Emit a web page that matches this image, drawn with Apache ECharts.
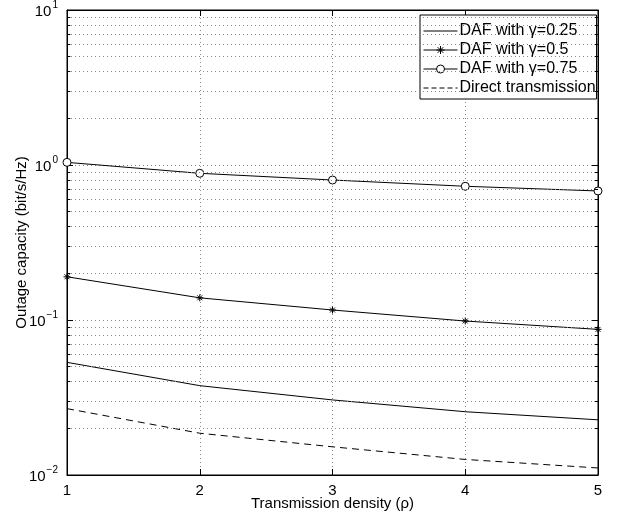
<!DOCTYPE html>
<html>
<head>
<meta charset="utf-8">
<script src="https://cdn.jsdelivr.net/npm/echarts@6/dist/echarts.min.js"></script>
<style>
  html, body { margin: 0; padding: 0; background: #fff; }
  #graph { width: 618px; height: 520px; }
</style>
</head>
<body>
<div id="graph"></div>
<script>
// values
var densities = [1, 2, 3, 4, 5];
var daf025 = [0.0533, 0.0377, 0.0305, 0.0256, 0.0227];
var daf05 = [0.190, 0.139, 0.116, 0.0985, 0.087];
var daf075 = [1.04, 0.884, 0.80, 0.729, 0.68];
var direct = [0.0268, 0.0186, 0.0152, 0.0126, 0.0111];
var seriesNames = ['DAF with \u03b3=0.25', 'DAF with \u03b3=0.5', 'DAF with \u03b3=0.75', 'Direct transmission'];
var minorGrid = [];
[0.01, 0.1, 1].forEach(function (d) {
  for (var k = 2; k <= 9; k++) minorGrid.push(+(d * k).toPrecision(3));
});

var FONT = 'Liberation Sans';
var starPath = 'path://M5,0L5,10M0,5L10,5M1.5,1.5L8.5,8.5M1.5,8.5L8.5,1.5';
var tickLen = 0.025; // minor tick length along x, in data units

function pairs(ys) {
  return densities.map(function (x, i) { return [x, ys[i]]; });
}

// dotted minor grid + short minor ticks on left/right axes
var minorLines = minorGrid.map(function (v) { return { yAxis: v }; });
var minorTicks = [];
minorGrid.forEach(function (v) {
  minorTicks.push([{ coord: [1, v] }, { coord: [1 + tickLen, v] }]);
  minorTicks.push([{ coord: [5 - tickLen, v] }, { coord: [5, v] }]);
});

var myChart = echarts.init(document.getElementById('graph'));

var gridLine = { show: true, lineStyle: { color: '#888', type: [1, 3], width: 1 } };
var hideIcon = { color: 'transparent', borderColor: 'transparent', borderWidth: 0 };
var solidLine = { color: '#000', width: 1, type: 'solid' };

var option = {
  animation: false,
  backgroundColor: '#fff',
  textStyle: { fontFamily: FONT },
  grid: {
    left: 67, right: 20, top: 10, bottom: 45,
    outerBoundsMode: 'none',
    show: true, borderColor: '#000', borderWidth: 1
  },
  legend: {
    data: [
      { name: seriesNames[0], itemStyle: hideIcon, lineStyle: solidLine },
      { name: seriesNames[1], lineStyle: solidLine, itemStyle: { color: '#000', borderColor: '#000', borderWidth: 1 } },
      { name: seriesNames[2], lineStyle: solidLine, itemStyle: { color: '#fff', borderColor: '#000', borderWidth: 1 } },
      { name: seriesNames[3], itemStyle: hideIcon, lineStyle: { color: '#000', width: 1, type: [5, 3] } }
    ],
    orient: 'vertical',
    left: 420,
    top: 15,
    backgroundColor: '#fff',
    borderColor: '#000',
    borderWidth: 1,
    padding: [8, 1, 3, 3],
    itemWidth: 34,
    itemHeight: 10,
    itemGap: 3,
    textStyle: { fontFamily: FONT, fontSize: 16, color: '#000', padding: [0, 0, 0, -3] }
  },
  xAxis: [{
    type: 'value',
    min: 1,
    max: 5,
    interval: 1,
    name: 'Transmission density (\u03c1)',
    nameLocation: 'middle',
    nameGap: 21,
    nameMoveOverlap: false,
    nameTextStyle: { fontFamily: FONT, fontSize: 15, color: '#000', verticalAlign: 'top' },
    axisLine: { lineStyle: { color: '#000' } },
    axisTick: { inside: true, length: 6, lineStyle: { color: '#000' } },
    axisLabel: { fontFamily: FONT, fontSize: 15, color: '#000', margin: 8 },
    splitLine: gridLine
  }, {
    type: 'value',
    position: 'top',
    min: 1,
    max: 5,
    interval: 1,
    axisLine: { lineStyle: { color: '#000' } },
    axisTick: { inside: true, length: 6, lineStyle: { color: '#000' } },
    axisLabel: { show: false },
    splitLine: { show: false }
  }],
  yAxis: [{
    type: 'log',
    logBase: 10,
    min: 0.01,
    max: 10,
    name: 'Outage capacity (bit/s/Hz)',
    nameLocation: 'middle',
    nameGap: 38,
    nameMoveOverlap: false,
    nameTextStyle: { fontFamily: FONT, fontSize: 15, color: '#000' },
    axisLine: { lineStyle: { color: '#000' } },
    axisTick: { inside: true, length: 6, lineStyle: { color: '#000' } },
    axisLabel: {
      margin: 9,
      formatter: function (v) {
        var e = Math.round(Math.log10(v));
        return '{b|10}{s|' + (e < 0 ? '\u2212' + (-e) : e) + '}';
      },
      rich: {
        b: { fontFamily: FONT, fontSize: 15, color: '#000', verticalAlign: 'bottom' },
        s: { fontFamily: FONT, fontSize: 10, color: '#000', verticalAlign: 'bottom', padding: [0, 0, 9, 1] }
      }
    },
    splitLine: gridLine
  }, {
    type: 'log',
    logBase: 10,
    min: 0.01,
    max: 10,
    position: 'right',
    axisLine: { lineStyle: { color: '#000' } },
    axisTick: { inside: true, length: 6, lineStyle: { color: '#000' } },
    axisLabel: { show: false },
    splitLine: { show: false }
  }],
  series: [{
    name: seriesNames[0],
    type: 'line',
    data: pairs(daf025),
    symbol: 'none',
    lineStyle: { color: '#000', width: 1 },
    itemStyle: { color: '#000' },
    markLine: {
      silent: true,
      symbol: 'none',
      label: { show: false },
      lineStyle: { color: '#888', type: [1, 3], width: 1 },
      data: minorLines
    },
    z: 3
  }, {
    name: seriesNames[1],
    type: 'line',
    data: pairs(daf05),
    symbol: starPath,
    symbolSize: 7,
    symbolKeepAspect: true,
    lineStyle: { color: '#000', width: 1 },
    itemStyle: { color: '#000', borderColor: '#000', borderWidth: 1 },
    z: 3
  }, {
    name: seriesNames[2],
    type: 'line',
    data: pairs(daf075),
    symbol: 'circle',
    symbolSize: 8,
    lineStyle: { color: '#000', width: 1 },
    itemStyle: { color: '#fff', borderColor: '#000', borderWidth: 1 },
    z: 3
  }, {
    name: seriesNames[3],
    type: 'line',
    data: pairs(direct),
    symbol: 'none',
    lineStyle: { color: '#000', width: 1, type: [7, 5] },
    itemStyle: { color: '#000' },
    markLine: {
      silent: true,
      symbol: 'none',
      label: { show: false },
      lineStyle: { color: '#000', type: 'solid', width: 1 },
      data: minorTicks
    },
    z: 3
  }]
};

myChart.setOption(option);
</script>
</body>
</html>
